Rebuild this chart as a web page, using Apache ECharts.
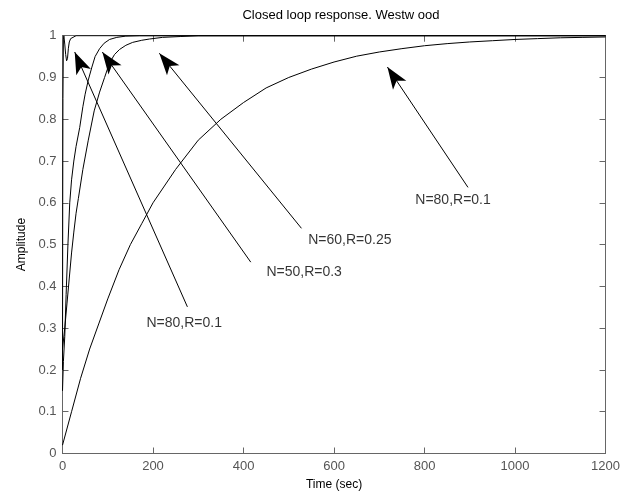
<!DOCTYPE html>
<html>
<head>
<meta charset="utf-8">
<script src="https://cdn.jsdelivr.net/npm/echarts@6/dist/echarts.min.js"></script>
<style>html,body{margin:0;padding:0;background:#fff}#c{width:623px;height:497px}</style>
</head>
<body>
<div id="c"></div>
<script>
// Step responses: [time, amplitude]
var curveA = [[0,0.2],[0.5,0.6],[1,0.85],[2,0.99],[3,1.0],[5,0.98],[7,0.955],[9,0.94],[10,0.937],[11,0.945],[13,0.97],[15,0.985],[18,0.993],[22,0.997],[30,1.0],[1200,1.0]];
var curveB = [[0,0.15],[2,0.22],[5,0.28],[8,0.38],[12,0.5],[16,0.6],[20,0.655],[25,0.7],[30,0.735],[38,0.78],[45,0.83],[50,0.86],[57,0.894],[65,0.925],[72,0.95],[82,0.969],[92,0.982],[104,0.991],[120,0.996],[140,0.999],[170,1.0],[1200,1.0]];
var curveC = [[0,0.25],[5,0.3],[10,0.36],[15,0.42],[20,0.48],[25,0.53],[30,0.575],[35,0.61],[45,0.68],[57,0.75],[70,0.82],[82,0.865],[93,0.9],[104,0.935],[115,0.955],[126,0.967],[140,0.977],[155,0.984],[175,0.989],[192,0.992],[221,0.996],[260,0.998],[300,1.0],[1200,1.0]];
var curveD = [[0,0.02],[20,0.1],[40,0.18],[60,0.25],[80,0.31],[100,0.37],[125,0.44],[150,0.5],[175,0.55],[200,0.6],[250,0.68],[300,0.75],[350,0.8],[400,0.84],[450,0.875],[500,0.9],[550,0.92],[600,0.937],[650,0.951],[700,0.961],[750,0.969],[800,0.976],[850,0.981],[900,0.985],[950,0.988],[1000,0.991],[1050,0.993],[1100,0.995],[1150,0.996],[1200,0.997]];

// Annotations
var labelTexts = ['N=80,R=0.1', 'N=60,R=0.25', 'N=50,R=0.3', 'N=80,R=0.1'];
var labelPos = [[863,0.606],[635,0.511],[534,0.434],[269,0.312]];
var arrowTail = [[896,0.637],[528,0.539],[416,0.458],[276,0.351]];
var arrowTip = [[718,0.925],[214,0.958],[88,0.961],[27,0.961]];

var xTicks = {min:0, max:1200, interval:200};
var yTicks = {min:0, max:1, interval:0.1};

var axisColor = '#666';
var fontFam = '"Liberation Sans", Arial, sans-serif';

var chart = echarts.init(document.getElementById('c'), null, {renderer:'canvas'});

function curveSeries(d){
  return {type:'line', data:d, showSymbol:false, symbol:'none', lineStyle:{color:'#000', width:1}, silent:true, animation:false, z:3};
}

var arrowData = arrowTail.map(function(t,i){
  return [{coord:t},{coord:arrowTip[i]}];
});

var labelData = labelPos.map(function(p,i){ return {value:p, name:labelTexts[i]}; });

chart.setOption({
  animation:false,
  title:{text:'Closed loop response. Westw ood', left:336, top:4, textAlign:'center',
    textStyle:{fontFamily:fontFam, fontSize:13, fontWeight:'normal', color:'#000'}},
  grid:{left:62.5, right:13, top:35.7, bottom:43.5, containLabel:false},
  xAxis:[
    {type:'value', min:xTicks.min, max:xTicks.max, interval:xTicks.interval, position:'bottom',
     name:'Time (sec)', nameLocation:'middle', nameGap:25,
     nameTextStyle:{fontFamily:fontFam, fontSize:12, color:'#000'},
     axisLine:{show:true, onZero:false, lineStyle:{color:axisColor, width:1}},
     axisTick:{show:true, inside:true, length:6, lineStyle:{color:axisColor}},
     axisLabel:{fontFamily:fontFam, fontSize:13, color:'#555', margin:6, formatter:function(v){return String(v);}},
     splitLine:{show:false}},
    {type:'value', min:xTicks.min, max:xTicks.max, interval:xTicks.interval, position:'top',
     axisLine:{show:true, onZero:false, lineStyle:{color:axisColor, width:1}},
     axisTick:{show:true, inside:true, length:6, lineStyle:{color:axisColor}},
     axisLabel:{show:false}, splitLine:{show:false}}
  ],
  yAxis:[
    {type:'value', min:yTicks.min, max:yTicks.max, interval:yTicks.interval, position:'left',
     name:'Amplitude', nameLocation:'middle', nameGap:33,
     nameTextStyle:{fontFamily:fontFam, fontSize:12, color:'#000'},
     axisLine:{show:true, onZero:false, lineStyle:{color:axisColor, width:1}},
     axisTick:{show:true, inside:true, length:6, lineStyle:{color:axisColor}},
     axisLabel:{fontFamily:fontFam, fontSize:13, color:'#555', margin:6},
     splitLine:{show:false}},
    {type:'value', min:yTicks.min, max:yTicks.max, interval:yTicks.interval, position:'right',
     axisLine:{show:true, onZero:false, lineStyle:{color:axisColor, width:1}},
     axisTick:{show:true, inside:true, length:6, lineStyle:{color:axisColor}},
     axisLabel:{show:false}, splitLine:{show:false}}
  ],
  series:[
    curveSeries(curveD),
    curveSeries(curveC),
    curveSeries(curveB),
    curveSeries(curveA),
    {type:'scatter', data:labelData, symbolSize:0, silent:true, z:5,
     label:{show:true, position:'inside', formatter:function(p){return p.name;},
       fontFamily:fontFam, fontSize:14, color:'#000'},
     markLine:{silent:true, symbol:['none','arrow'], symbolSize:[12,22],
       lineStyle:{color:'#000', width:1, type:'solid'}, label:{show:false},
       emphasis:{disabled:true}, data:arrowData, animation:false}
    }
  ]
});
</script>
</body>
</html>
